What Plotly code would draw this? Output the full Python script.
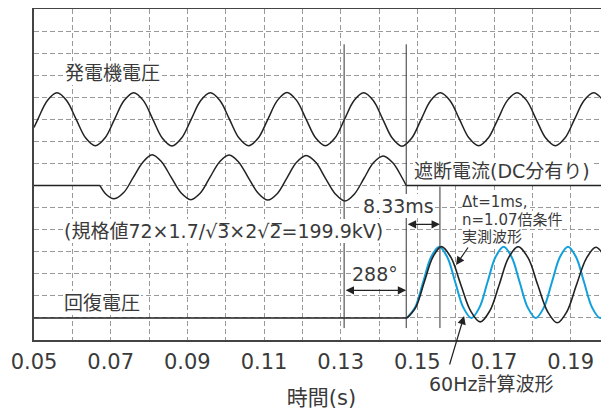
import plotly.graph_objects as go

# ---------------- data ----------------
# x axis grid / tick labels (time, s)
grid_t = [0.05, 0.06, 0.07, 0.08, 0.09, 0.10, 0.11, 0.12, 0.13, 0.14,
          0.15, 0.16, 0.17, 0.18, 0.19, 0.20]
grid_lbl = ["0.05", "", "0.07", "", "0.09", "", "0.11", "", "0.13", "",
            "0.15", "", "0.17", "", "0.19", ""]

# 発電機電圧 (generator voltage), plotted in grid units
gen_t = [0.0500, 0.0510, 0.0535, 0.0560, 0.0585, 0.0610, 0.0635, 0.0660, 0.0685,
         0.0710, 0.0735, 0.0760, 0.0785, 0.0810, 0.0835, 0.0860, 0.0885,
         0.0910, 0.0935, 0.0960, 0.0985, 0.1010, 0.1035, 0.1060, 0.1085,
         0.1110, 0.1135, 0.1160, 0.1185, 0.1210, 0.1235, 0.1260, 0.1285,
         0.1310, 0.1335, 0.1360, 0.1385, 0.1410, 0.1435, 0.1460, 0.1485,
         0.1510, 0.1535, 0.1560, 0.1585, 0.1610, 0.1635, 0.1660, 0.1685,
         0.1710, 0.1735, 0.1760, 0.1785, 0.1810, 0.1835, 0.1860, 0.1885,
         0.1910, 0.1935, 0.1960, 0.1985, 0.2000]
gen_v = [9.63, 10.00, 10.85, 11.20, 10.85, 10.00, 9.15, 8.80, 9.15,
         10.00, 10.85, 11.21, 10.86, 10.00, 9.14, 8.79, 9.15,
         10.00, 10.85, 11.20, 10.85, 10.00, 9.15, 8.80, 9.15,
         10.00, 10.86, 11.22, 10.86, 10.00, 9.15, 8.80, 9.15,
         10.00, 10.85, 11.20, 10.85, 10.00, 9.14, 8.78, 9.14,
         10.00, 10.85, 11.20, 10.85, 10.00, 9.15, 8.80, 9.15,
         10.00, 10.86, 11.21, 10.86, 10.00, 9.15, 8.80, 9.15,
         10.00, 10.85, 11.20, 10.85, 10.37]

# 遮断電流(DC分有り) (breaking current)
cur_t = [0.0500, 0.0672, 0.0690, 0.0709, 0.0734, 0.0759, 0.0784, 0.0808, 0.0833,
         0.0858, 0.0884, 0.0909, 0.0934, 0.0959, 0.0984, 0.1009, 0.1034, 0.1059,
         0.1085, 0.1110, 0.1135, 0.1160, 0.1185, 0.1210, 0.1235, 0.1260, 0.1286,
         0.1311, 0.1336, 0.1361, 0.1386, 0.1411, 0.1436, 0.1461, 0.1471, 0.2000]
cur_v = [7.00, 7.00, 6.57, 6.40, 6.68, 7.37, 8.06, 8.40, 8.07,
         7.37, 6.66, 6.36, 6.66, 7.37, 8.07, 8.38, 8.06, 7.36,
         6.65, 6.34, 6.64, 7.35, 8.05, 8.36, 8.05, 7.34, 6.62,
         6.30, 6.62, 7.33, 8.04, 8.34, 8.03, 7.33, 7.00, 7.00]

# 回復電圧 実測波形 (measured recovery voltage)
rec_t = [0.0500, 0.1473, 0.14955, 0.1518, 0.15405, 0.1563, 0.1588, 0.1613, 0.1639,
         0.1664, 0.1689, 0.1714, 0.1738, 0.1763, 0.1789, 0.1814, 0.1840, 0.1865,
         0.1890, 0.1915, 0.1941, 0.1966, 0.1991, 0.2000]
rec_v = [1.00, 1.00, 1.47, 2.62, 3.76, 4.23, 3.73, 2.53, 1.32,
         0.82, 1.32, 2.53, 3.73, 4.23, 3.72, 2.50, 1.28, 0.78,
         1.28, 2.49, 3.70, 4.20, 3.70, 3.32]

# 60Hz計算波形 (calculated 60 Hz waveform)
calc_t = [0.1473, 0.1494, 0.1515, 0.1536, 0.1557, 0.1578, 0.1599, 0.1620, 0.1641,
          0.1662, 0.1683, 0.1704, 0.1725, 0.1746, 0.1767, 0.1788, 0.1809, 0.1830,
          0.1851, 0.1872, 0.1893, 0.1914, 0.1935, 0.1956, 0.1977, 0.2000]
calc_v = [1.00, 1.47, 2.62, 3.76, 4.23, 3.76, 2.62, 1.47, 1.00,
          1.47, 2.62, 3.76, 4.23, 3.76, 2.62, 1.47, 1.00, 1.47,
          2.62, 3.76, 4.23, 3.76, 2.62, 1.47, 1.00, 1.56]

# marker lines (time, top, bottom)
mark_t = [0.1309, 0.1471, 0.1559]
mark_top = [13.4, 13.4, 6.95]
mark_bot = [0.54, 0.54, 0.54]

# ---------------- figure ----------------
FONT = "DejaVu Sans, Noto Sans CJK JP, sans-serif"
INK = "#3a3a3a"
BLACK = "#222222"
BLUE = "#12a0dc"

fig = go.Figure()

fig.add_trace(go.Scatter(x=gen_t, y=gen_v, mode="lines",
                         line=dict(color=BLACK, width=1.5, shape="spline"),
                         hoverinfo="skip"))
fig.add_trace(go.Scatter(x=cur_t[:2], y=cur_v[:2], mode="lines",
                         line=dict(color=BLACK, width=1.5), hoverinfo="skip"))
fig.add_trace(go.Scatter(x=cur_t[1:35], y=cur_v[1:35], mode="lines",
                         line=dict(color=BLACK, width=1.5, shape="spline"),
                         hoverinfo="skip"))
fig.add_trace(go.Scatter(x=cur_t[34:], y=cur_v[34:], mode="lines",
                         line=dict(color=BLACK, width=1.5), hoverinfo="skip"))
fig.add_trace(go.Scatter(x=calc_t, y=calc_v, mode="lines",
                         line=dict(color=BLUE, width=2, shape="spline"),
                         hoverinfo="skip"))
fig.add_trace(go.Scatter(x=rec_t[:2], y=rec_v[:2], mode="lines",
                         line=dict(color=BLACK, width=1.5), hoverinfo="skip"))
fig.add_trace(go.Scatter(x=rec_t[1:], y=rec_v[1:], mode="lines",
                         line=dict(color=BLACK, width=1.6, shape="spline"),
                         hoverinfo="skip"))

for t, top, bot in zip(mark_t, mark_top, mark_bot):
    fig.add_shape(type="line", xref="x", yref="y", x0=t, x1=t, y0=bot, y1=top,
                  line=dict(color="#333", width=1))

def label(text, x, y, size, xanchor="left", pad=1):
    fig.add_annotation(text=text, x=x, y=y, xref="x", yref="y",
                       xanchor=xanchor, yanchor="middle", showarrow=False,
                       font=dict(size=size, color=INK, family=FONT),
                       bgcolor="white", borderpad=pad, borderwidth=0)

label("発電機電圧", 0.0578, 12.1, 19)
label("遮断電流(DC分有り)", 0.1489, 7.65, 19)
label("(規格値72×1.7/√3̅×2√2̅=199.9kV)", 0.0576, 4.95, 19)
label("回復電圧", 0.0576, 1.68, 19)
label("8.33ms", 0.1451, 6.07, 19, "center")
label("288°", 0.1390, 2.97, 19, "center")
label("Δt=1ms,", 0.1617, 6.25, 15, pad=0)
label("n=1.07倍条件", 0.1617, 5.45, 15, pad=0)
label("実測波形", 0.1617, 4.65, 15, pad=0)
fig.add_annotation(text="60Hz計算波形", x=0.1691, y=-0.132, xref="x", yref="paper",
                   xanchor="center", yanchor="middle", showarrow=False,
                   font=dict(size=19, color=INK, family=FONT))

def arrow(x0, y0, x1, y1, both=False):
    fig.add_annotation(text="", x=x1, y=y1, ax=x0, ay=y0, xref="x", yref="y",
                       axref="x", ayref="y", showarrow=True,
                       arrowside="end+start" if both else "end",
                       arrowhead=2, arrowsize=1.4, arrowwidth=1.2,
                       arrowcolor="#222", standoff=0, startstandoff=0)

arrow(0.1471, 5.24, 0.1559, 5.24, both=True)
arrow(0.1309, 2.25, 0.1471, 2.25, both=True)
arrow(0.1635, 4.26, 0.1601, 3.40)
arrow(0.1583, -1.18, 0.1622, 1.09)

# the page places the figure 8 px in from the window's top-left corner
fig.update_layout(
    width=601, height=402, autosize=False,
    margin=dict(l=26, r=0, t=1, b=70),
    paper_bgcolor="white", plot_bgcolor="white",
    showlegend=False,
    font=dict(family=FONT, color=INK),
    xaxis=dict(range=[0.05, 0.2], tickvals=grid_t, ticktext=grid_lbl,
               showgrid=True, gridcolor="#9a9a9a", gridwidth=1, griddash="5px,3px",
               showline=True, linecolor="#444", linewidth=1.5, mirror=True,
               ticks="", zeroline=False, automargin=False,
               ticklabelstandoff=2,
               tickfont=dict(size=21, color=INK, family=FONT),
               title=dict(text="時間(s)", font=dict(size=21, color=INK, family=FONT),
                          standoff=18)),
    yaxis=dict(range=[0, 15], tick0=0, dtick=1, showticklabels=False,
               showgrid=True, gridcolor="#9a9a9a", gridwidth=1, griddash="5px,3px",
               showline=True, linecolor="#444", linewidth=1.5, mirror=False,
               ticks="", zeroline=False, automargin=False),
)

fig.write_html("out.html")
